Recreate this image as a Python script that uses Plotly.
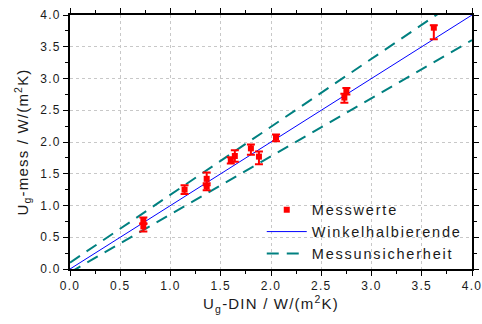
import plotly.graph_objects as go

# Measured values (Messwerte)
mess_x = [0.73, 0.73, 1.14, 1.36, 1.36, 1.60, 1.64, 1.80, 1.88, 2.05, 2.73, 2.75, 3.62]
mess_y = [0.76, 0.67, 1.25, 1.42, 1.30, 1.71, 1.78, 1.90, 1.77, 2.07, 2.70, 2.80, 3.80]
err_plus = [0.05, 0.05, 0.07, 0.10, 0.05, 0.05, 0.09, 0.06, 0.08, 0.05, 0.06, 0.05, 0.04]
err_minus = [0.05, 0.08, 0.07, 0.10, 0.06, 0.05, 0.09, 0.10, 0.12, 0.06, 0.08, 0.05, 0.18]

# Bisector (Winkelhalbierende)
diag_x = [0.0, 4.0]
diag_y = [0.0, 4.0]

# Uncertainty band (Messunsicherheit)
upper_x = [0.0, 4.0]
upper_y = [0.10, 4.38]
lower_x = [0.0, 4.0]
lower_y = [-0.055, 3.605]

tick_vals = [0.0, 0.5, 1.0, 1.5, 2.0, 2.5, 3.0, 3.5, 4.0]
tick_text = ["0.0", "0.5", "1.0", "1.5", "2.0", "2.5", "3.0", "3.5", "4.0"]

FONT = "Liberation Sans, Arial, sans-serif"
RED = "#ff0000"
BLUE = "#0000ff"
TEAL = "#008080"
TXT = "#1a1a1a"

fig = go.Figure()

fig.add_trace(go.Scatter(
    x=upper_x, y=upper_y, mode="lines", name="Messunsicherheit",
    line=dict(color=TEAL, width=2, dash="12px,8px"),
    legendgroup="mu", legendrank=3, showlegend=True,
))
fig.add_trace(go.Scatter(
    x=lower_x, y=lower_y, mode="lines", name="Messunsicherheit",
    line=dict(color=TEAL, width=2, dash="12px,8px"),
    legendgroup="mu", showlegend=False,
))
fig.add_trace(go.Scatter(
    x=diag_x, y=diag_y, mode="lines", name="Winkelhalbierende",
    line=dict(color=BLUE, width=1), legendrank=2,
))
fig.add_trace(go.Scatter(
    x=mess_x, y=mess_y, mode="markers", name="Messwerte",
    marker=dict(symbol="square", color=RED, size=6),
    error_y=dict(type="data", array=err_plus, arrayminus=err_minus,
                 color=RED, thickness=2, width=4),
    legendrank=1,
))

axis_common = dict(
    range=[0, 4], tickvals=tick_vals, ticktext=tick_text,
    showline=True, linecolor="black", linewidth=1.5, mirror="allticks",
    ticks="outside", ticklen=5, tickwidth=1, tickcolor="black",
    minor=dict(dtick=0.25, ticks="outside", ticklen=3, tickcolor="black", showgrid=False),
    showgrid=True, gridcolor="#c8c8c8", gridwidth=1, griddash="dot",
    zeroline=False, automargin=False,
    tickfont=dict(family=FONT, size=12, color=TXT),
)

fig.update_xaxes(
    **axis_common,
    title=dict(text="U<sub>g</sub>-DIN / W/(m<sup>2</sup>K)",
               font=dict(family=FONT, size=15, color=TXT), standoff=0),
)
fig.update_yaxes(
    **axis_common,
    title=dict(text="U<sub>g</sub>-mess / W/(m<sup>2</sup>K)",
               font=dict(family=FONT, size=15, color=TXT), standoff=12),
)

fig.update_layout(
    width=482, height=324,
    margin=dict(l=70, r=10, t=15, b=55),
    paper_bgcolor="white", plot_bgcolor="white",
    showlegend=True,
    legend=dict(x=0.477, y=0.296, xanchor="left", yanchor="top",
                bgcolor="rgba(0,0,0,0)", borderwidth=0,
                font=dict(family=FONT, size=14.5, color=TXT),
                tracegroupgap=0, itemwidth=40),
)

spacing_js = """
document.body.style.margin = '0';
function applySpacing(){
  document.querySelectorAll('.legend [clip-path]').forEach(function(e){e.removeAttribute('clip-path');});
  document.querySelectorAll('.legendtext').forEach(function(t){t.style.letterSpacing='1.8px';});
  document.querySelectorAll('.xtitle, .ytitle').forEach(function(t){t.style.letterSpacing='1.2px';});
  document.querySelectorAll('.xtick text, .ytick text').forEach(function(t){t.style.letterSpacing='1.3px';});
}
applySpacing();
"""

fig.write_html("out.html", post_script=spacing_js,
               config={"displayModeBar": False, "staticPlot": False})
